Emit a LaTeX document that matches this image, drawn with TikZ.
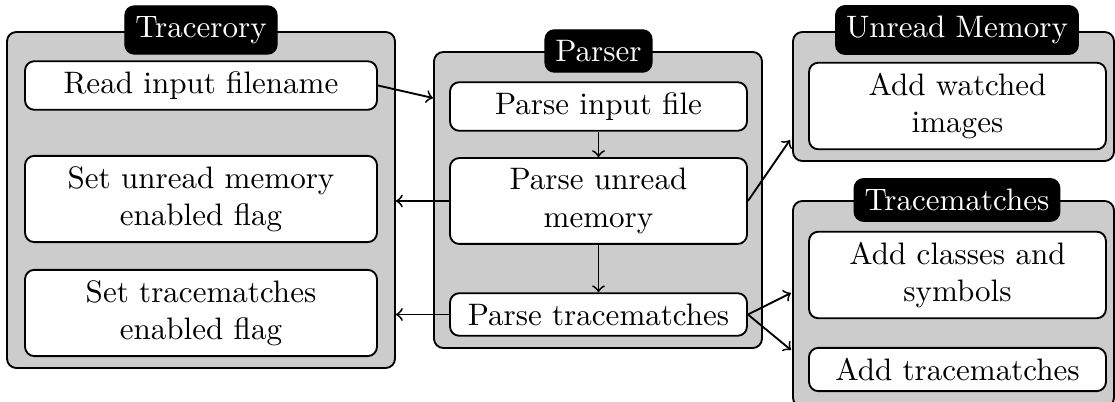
\documentclass[tikz,border=0pt]{standalone}
\usetikzlibrary{calc}
\begin{document}
\begin{tikzpicture}[x=0.322pt,y=-0.322pt,
  cont/.style={draw, fill=black!20, rounded corners=3pt, line width=0.6pt, inner sep=0pt},
  ttl/.style={draw, fill=black, text=white, rounded corners=3pt, inner sep=3.33pt},
  box/.style={draw, fill=white, rounded corners=3pt, line width=0.6pt, align=center, inner sep=3.33pt},
  arr/.style={->, line width=0.6pt}]
\useasboundingbox (0,0) rectangle (1115,402);
% containers
\node[cont, minimum width=124.94pt, minimum height=108.19pt] (C1) at (201,200) {};
\node[cont, minimum width=105.6pt, minimum height=95.31pt] (C2) at (598,200) {};
\node[cont, minimum width=103.36pt, minimum height=41.54pt] (C3) at (953.5,96.5) {};
\node[cont, minimum width=103.36pt, minimum height=66.33pt] (C4) at (953.5,304) {};
% titles
\node[ttl] (T1) at (201,30) {Tracerory};
\node[ttl] (T2) at (598.5,51) {Parser};
\node[ttl] (T3) at (957,30) {Unread Memory};
\node[ttl] (T4) at (957,200) {Tracematches};
% left boxes
\node[box, minimum width=113.34pt] (L1) at (201,85.5) {Read input filename};
\node[box, minimum width=113.34pt] (L2) at (201,199) {Set unread memory\\enabled flag};
\node[box, minimum width=113.34pt] (L3) at (201,313) {Set tracematches\\enabled flag};
% middle boxes
\node[box, minimum width=95.63pt] (M1) at (598.5,106.5) {Parse input file};
\node[box, minimum width=95.63pt] (M2) at (598.5,201) {Parse unread\\memory};
\node[box, minimum width=95.63pt] (M3) at (598.5,314.5) {Parse tracematches};
% right boxes
\node[box, minimum width=95.63pt] (R1) at (957.5,106) {Add watched\\images};
\node[box, minimum width=95.63pt] (R2) at (957.5,275) {Add classes and\\symbols};
\node[box, minimum width=95.63pt] (R3) at (957.5,369.5) {Add tracematches};
% arrow end points
\coordinate (c2in) at (433,98);
\coordinate (c3in) at (790,140);
\coordinate (c4a) at (791,293);
\coordinate (c4b) at (791,350);
% arrows
\draw[arr] (L1.east) -- (c2in);
\draw[arr] (M1.south) -- (M2.north);
\draw[arr] (M2.south) -- (M3.north);
\draw[arr] (M2.west) -- (M2.west -| C1.east);
\draw[arr] (M3.west) -- (M3.west -| C1.east);
\draw[arr] (M2.east) -- (c3in);
\draw[arr] (M3.east) -- (c4a);
\draw[arr] (M3.east) -- (c4b);
\end{tikzpicture}
\end{document}
